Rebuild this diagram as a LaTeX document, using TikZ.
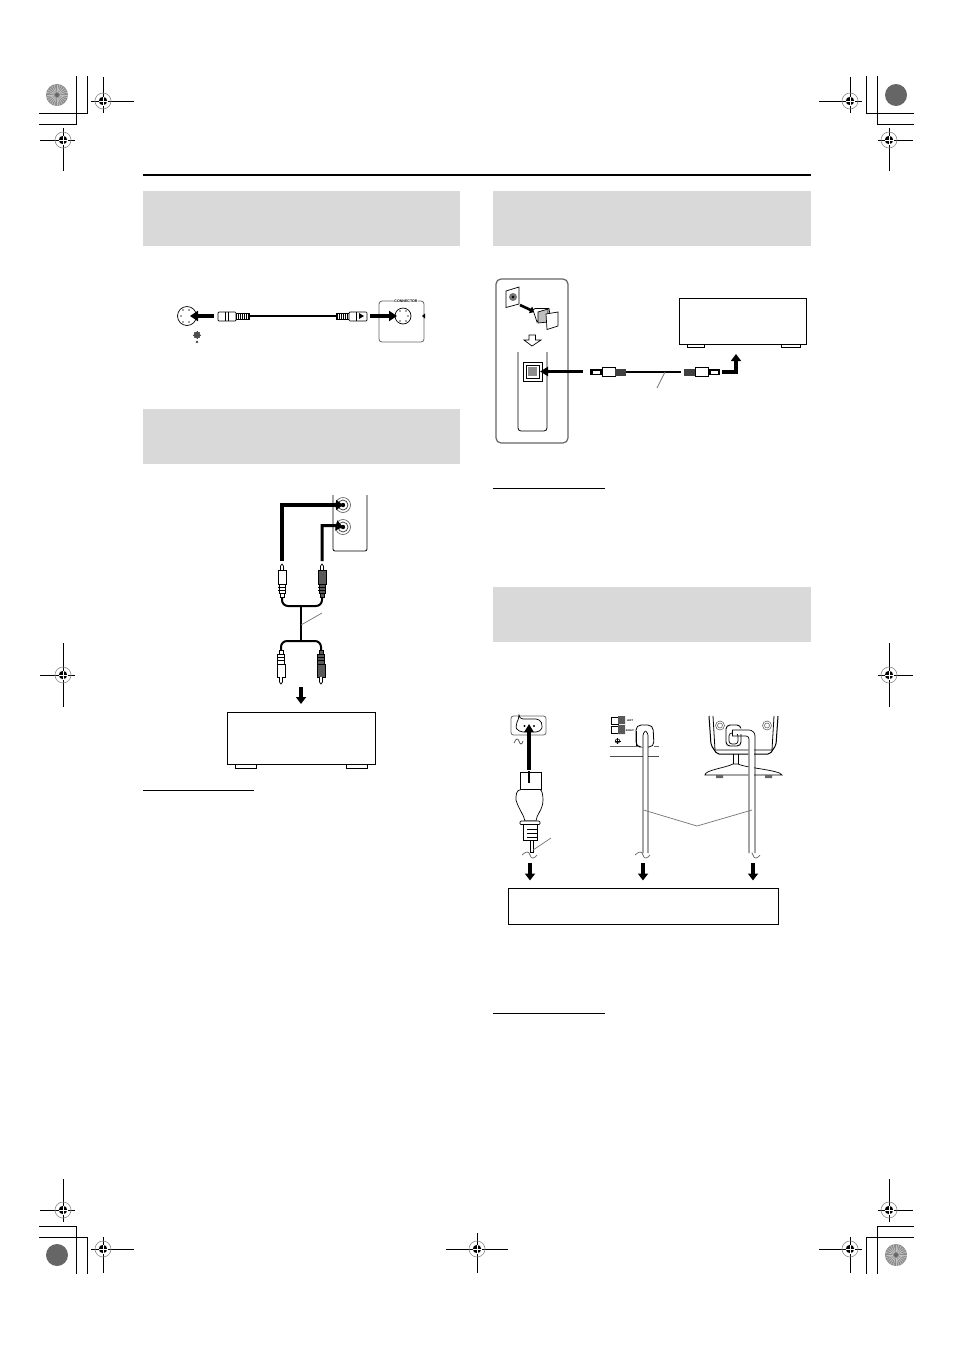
\documentclass[tikz,border=0pt]{standalone}
\usepackage{fontspec}
\setmainfont{Liberation Sans}
\usetikzlibrary{arrows.meta}
\tikzset{
 x=1pt,y=-1pt,
 crop/.style={line width=1pt,black},
 graybar/.style={fill=black!15,draw=none},
 ruleline/.style={line width=0.7pt,black},
 fatarrow/.style={line width=3.5pt,-{Triangle[length=8pt,width=10pt]}},
 cable/.style={line width=3pt,line cap=round,line join=round},
 unitbox/.style={draw=black,line width=0.9pt,fill=white},
 leader/.style={draw=black!55,line width=0.7pt},
 outline/.style={draw=black,line width=0.7pt},
 softline/.style={draw=black!60,line width=1pt},
 smalltext/.style={font=\bfseries\fontsize{3.6}{4}\selectfont,inner sep=0pt,fill=white}
}
\newcommand{\regmark}[6]{% cx cy left right up down
 \draw[crop] (#3,#2) -- (#4,#2) (#1,#5) -- (#1,#6);
 \draw[black!45,line width=0.6pt] (#1,#2) circle[radius=8];
 \fill[black] (#1,#2) circle[radius=4.2];
 \draw[white,line width=0.7pt] (#1-4.5,#2) -- (#1+4.5,#2) (#1,#2-4.5) -- (#1,#2+4.5);
}
\newcommand{\texdisc}[2]{%
 \fill[black!45] (#1,#2) circle[radius=11];
 \foreach \a in {0,15,...,345}{\draw[white!75!black,line width=0.7pt] (#1,#2) ++(\a:3) -- ++(\a:7.5);}
 \fill[black!60] (#1,#2) circle[radius=2];
}
\newcommand{\soliddisc}[2]{\fill[black!60] (#1,#2) circle[radius=11];}
\newcommand{\rcaplug}[5]{% x, ytip, ybody top, ybody bottom, fill
 \draw[outline,fill=white] (#1-1.5,#2+6) -- (#1-1.5,#2+2) -- (#1,#2) -- (#1+1.5,#2+2) -- (#1+1.5,#2+6);
 \draw[outline,fill=#5] (#1-4,#3) rectangle (#1+4,#4);
}
\begin{document}
\begin{tikzpicture}
\useasboundingbox[fill=white] (0,0) rectangle (954,1350);
% crop marks
\draw[crop] (39,124) -- (76,124) -- (76,76) (39,113) -- (87,113) -- (87,76);
\draw[crop] (914,124) -- (877,124) -- (877,76) (914,113) -- (866,113) -- (866,76);
\draw[crop] (39,1226) -- (76,1226) -- (76,1274) (39,1237) -- (87,1237) -- (87,1274);
\draw[crop] (914,1226) -- (877,1226) -- (877,1274) (914,1237) -- (866,1237) -- (866,1274);
\texdisc{57}{95}
\soliddisc{896}{95}
\soliddisc{57}{1255}
\texdisc{896}{1255}
\regmark{103}{101}{91}{134}{77}{113}
\regmark{63}{140}{40}{75}{128}{171}
\regmark{850}{101}{819}{862}{77}{113}
\regmark{889}{140}{878}{913}{128}{171}
\regmark{63}{1210}{40}{75}{1179}{1222}
\regmark{103}{1249}{91}{134}{1237}{1273}
\regmark{889}{1210}{878}{913}{1179}{1222}
\regmark{850}{1249}{819}{862}{1237}{1273}
\regmark{63}{675}{40}{75}{643}{707}
\regmark{889}{675}{878}{913}{643}{707}
\regmark{477}{1249}{446}{508}{1233}{1273}
% header
\draw[black,line width=2pt] (143,175) -- (811,175);
\fill[graybar] (143,191) rectangle (460,246);
\fill[graybar] (143,409) rectangle (460,464);
\fill[graybar] (493,191) rectangle (811,246);
\fill[graybar] (493,587) rectangle (811,642);
\draw[ruleline] (143,790) -- (254,790);
\draw[ruleline] (493,488) -- (605,488);
\draw[ruleline] (493,1013) -- (605,1013);

% ---------- diagram 1
\draw[softline,line width=0.8pt,rounded corners=3pt] (379,301) rectangle (424,342);
\node[smalltext] (conn) at (406,301) {CONNECTOR};
\draw[outline,fill=white] (187,316) circle[radius=9.5];
\foreach \p in {(183,310),(189,310),(181,316),(193,316),(183,322),(189,322)}{\fill[black!70] \p circle[radius=0.9];}
\draw[outline,fill=white] (403,316) circle[radius=8];
\foreach \p in {(400,311),(406,311),(408,316),(400,321),(406,321)}{\fill[black!70] \p circle[radius=0.8];}
\fill[black] (422,316) -- (425,313.5) -- (425,318.5) -- cycle;
\fill[black!70] (197,335) circle[radius=3.4];
\foreach \a in {0,45,...,315}{\draw[black!70,line width=0.4pt] (197,335) ++(\a:3) -- ++(\a:1);}
\fill[black] (197,340.5) -- (195.8,342.5) -- (198.2,342.5) -- cycle;
\draw[fatarrow,line width=4pt] (214,316) -- (190,316);
\draw[fatarrow,line width=4pt] (370,316) -- (397,316);
\coordinate (cL) at (249,316);
\coordinate (cR) at (336,316);
\draw[black,line width=2.6pt] (cL) -- (cR);
\draw[outline,rounded corners=1pt,fill=white] (218,312) rectangle (236,321);
\draw[outline] (225,312) -- (225,321) (228,312)--(228,321);
\draw[outline,fill=white] (236,313) rectangle (249,319.5);
\foreach \x in {238,240,...,248}{\draw[black,line width=0.8pt] (\x,313) -- (\x,319.5);}
\draw[outline,fill=white] (336,313) rectangle (349,319.5);
\foreach \x in {337,339,...,347}{\draw[black,line width=0.8pt] (\x,313) -- (\x,319.5);}
\draw[outline,rounded corners=1pt,fill=white] (349,312) rectangle (367,321);
\fill[black] (359,313) -- (364,316) -- (359,319) -- cycle;
\draw[outline] (356,312) -- (356,321);

% ---------- diagram 2
\draw[black,line width=0.8pt,rounded corners=2pt] (333,495) -- (333,551) -- (367,551) -- (367,495);
\foreach \y in {505,527}{
 \draw[black!60,line width=0.7pt] (343,\y) circle[radius=7.5];
 \draw[black!80,line width=0.7pt] (343,\y) circle[radius=5];
 \fill[black] (343,\y) circle[radius=2.2];
}
\coordinate (j1) at (343,505);
\coordinate (j2) at (343,527);
\draw[line width=4pt,-{Triangle[length=7pt,width=10pt]}] (282,561) -- (282,505) -- (j1);
\draw[line width=3pt,-{Triangle[length=7pt,width=10pt]}] (322,561) -- (322,525.5) -- (336,525.5) -- (j2);
\rcaplug{282}{564}{570}{584}{white}
\rcaplug{322}{564}{570}{584}{black!65}
\foreach \x/\c in {282/white,322/black!65}{
 \draw[outline,fill=\c] (\x-3,584) rectangle (\x+3,593);
 \draw[black,line width=1pt] (\x-4,587) -- (\x+4,587) (\x-4,590) -- (\x+4,590);
 \draw[outline,fill=\c] (\x-2,593) rectangle (\x+2,597);
}
\draw[black,line width=2pt,rounded corners=6pt] (282,597) -- (282,606) -- (322,606) -- (322,597);
\draw[black,line width=2.6pt] (301,606) -- (301,641);
\draw[black,line width=2pt,rounded corners=6pt] (281,652) -- (281,641) -- (321,641) -- (321,652);
\draw[leader] (301,625) -- (322,613);
\foreach \x/\c in {281/white,321/black!65}{
 \draw[outline,fill=\c] (\x-2,650) rectangle (\x+2,654);
 \draw[outline,fill=\c] (\x-3.5,654) rectangle (\x+3.5,664);
 \draw[black,line width=1pt] (\x-4,657) -- (\x+4,657) (\x-4,660) -- (\x+4,660);
 \draw[outline,fill=\c] (\x-4,664) rectangle (\x+4,677);
 \draw[outline,fill=white] (\x-1.5,677) -- (\x-1.5,682) -- (\x,684) -- (\x+1.5,682) -- (\x+1.5,677);
}
\coordinate (a2s) at (301,687);
\node[unitbox,minimum width=0pt,inner sep=0pt,fit/.style={}] (u1) at (301,738) {};
\draw[unitbox] (227,712) rectangle (375.5,764.5);
\draw[unitbox] (235,764.5) rectangle (256,768);
\draw[unitbox] (346,764.5) rectangle (367,768);
\draw[line width=3.5pt,-{Triangle[length=7pt,width=10pt]}] (a2s) -- (301,704);

% ---------- diagram 3
\draw[softline,line width=1.2pt,rounded corners=5pt] (496,279) rectangle (568,443);
\draw[outline,fill=white] (506,291) -- (519,287) -- (519,304) -- (506,307.5) -- cycle;
\fill[black!55] (513,297) circle[radius=4];
\fill[black] (513,297) circle[radius=1.3];
\draw[line width=2.6pt,-{Triangle[length=5pt,width=7pt]}] (520,305) -- (535,312);
\draw[outline,fill=white] (533,310) -- (535,308.5) -- (549,308.5) -- (550,315) -- (540,318) -- (537,322) -- cycle;
\draw[outline,fill=black!25] (538,312) -- (548,309) -- (548,322) -- (538,323) -- cycle;
\draw[outline,fill=white] (546,314) -- (558,312) -- (558,326) -- (547,329.5) -- cycle;
\draw[outline,fill=white] (529,335) -- (535.5,335) -- (535.5,340) -- (541,340) -- (532,346) -- (524,340) -- (529,340) -- cycle;
\draw[black,line width=0.8pt,rounded corners=3pt] (518,352) -- (518,431) -- (547,431) -- (547,352);
\draw[black,line width=1pt,fill=white] (523,362) rectangle (542,381);
\draw[black,line width=0.8pt] (526,365) rectangle (539,378);
\fill[black!45] (528,367) rectangle (537,376);
\draw[line width=3.5pt,-{Triangle[length=8pt,width=9pt]}] (583,371.5) -- (540,371.5);
\draw[black,line width=1.4pt] (626,372) -- (681,372);
\draw[leader] (665,372) -- (657,388);
\foreach \s/\o in {1/0,-1/1310}{
 \begin{scope}[shift={(\o,0)},xscale=\s]
 \fill[black] (590,369) rectangle (602,375);
 \draw[outline,fill=white] (592,370) rectangle (600,374);
 \draw[outline,fill=white] (602,367.5) rectangle (615,376.5);
 \fill[black!75] (615,368.5) rectangle (626,375.5);
 \end{scope}
}
\draw[line width=3.5pt,-{Triangle[length=7pt,width=10pt]}] (722,372) -- (736,372) -- (736,354);
\draw[unitbox] (679.5,298) rectangle (806.5,344);
\draw[unitbox] (687,344) rectangle (704,347);
\draw[unitbox] (781,344) rectangle (800,347);

% ---------- diagram 4
\draw[softline,line width=0.8pt,rounded corners=2.5pt] (511,716) rectangle (546,735);
\draw[outline,rounded corners=4pt] (519,719) -- (540,719) .. controls (542,724) and (542,728) .. (540,732) -- (519,732) .. controls (516,728) and (516,724) .. (519,719) -- cycle;
\fill[black] (524.5,726) circle[radius=1.1] (534,726) circle[radius=1.1];
\draw[black!70,line width=0.7pt] (514,743) .. controls (516,738) and (518,738) .. (519,741) .. controls (520,745) and (522,745) .. (523,741);
\draw[outline,fill=white] (520,772) rectangle (541,789.5);
\draw[line width=3.5pt,-{Triangle[length=8pt,width=9pt]}] (529,770) -- (529,724);
\draw[black,line width=2.6pt,line cap=butt] (529,771) -- (529,783);
\draw[outline,fill=white] (521,789.5) .. controls (516,790) and (516,795) .. (516,800) .. controls (519,810) and (524,815) .. (525,821) -- (536,821) .. controls (536,815) and (543,810) .. (543,800) .. controls (543,795) and (542,790) .. (540,789.5) -- cycle;
\draw[outline,rounded corners=1pt,fill=white] (520,821) rectangle (540,824.5);
\draw[outline,fill=white] (523,824.5) rectangle (537,840);
\foreach \y in {829,833,837}{\draw[black,line width=0.8pt] (527,\y) -- (537,\y);}
\draw[outline,fill=white] (530,840) rectangle (533,852);
\draw[leader] (533,850) -- (551,838);
\coordinate (brkA) at (530,855);
\foreach \x in {522,635,745}{
 \draw[black!60,line width=0.7pt] (\x,855) .. controls (\x+4,851) and (\x+7,851) .. (\x+8,855) .. controls (\x+9,859) and (\x+12,859) .. (\x+15,855);
}
% speaker terminals
\draw[outline,fill=white] (611,717) rectangle (618,724);
\draw[outline,fill=white] (611,726) rectangle (618,733);
\fill[black!65] (618,716) rectangle (625,724) (618,725) rectangle (625,734);
\fill[white] (613,719) rectangle (616,722) (613,728) rectangle (616,731);
\node[smalltext,fill=none,font=\bfseries\fontsize{2.6}{3}\selectfont] (lft) at (630,720.5) {LEFT};
\node[smalltext,fill=none,font=\bfseries\fontsize{2.6}{3}\selectfont] (rgt) at (630,730.5) {RIGHT};
\draw[black,line width=0.6pt] (617.5,741) circle[radius=2.2];
\draw[black,line width=0.6pt] (614.5,741) -- (620.5,741) (617.5,738) -- (617.5,744);
\draw[black!60,line width=0.8pt] (610,746.5) -- (640,746.5) (654,746.5) -- (659,746.5);
\draw[black,line width=1pt,rounded corners=2pt] (636,746) -- (636,731);
\draw[black,line width=0.8pt,rounded corners=5pt] (639,747) -- (636,747) -- (636,725) -- (653,725) -- (654,747) -- (644,747);
\draw[black!70,line width=1.6pt] (610,756.5) -- (659,756.5);
\draw[outline,fill=white,draw=none] (643,735) rectangle (648,853);
\draw[black,line width=0.7pt,rounded corners=2.5pt] (643,853) -- (643,733) -- (645.5,731);
\draw[black,line width=0.7pt,rounded corners=2.5pt] (648,853) -- (648,733) -- (645.5,731);
% speaker rear
\draw[black,line width=1pt,rounded corners=2pt] (709,716) -- (711,745) -- (717,754) -- (770,754) -- (776,745) -- (778,716);
\draw[black,line width=0.8pt] (713,716) -- (715,750) -- (772,750) -- (774,716);
\foreach \x in {720,767}{
 \draw[black!60,line width=0.6pt] (\x,725.5) circle[radius=4.5];
 \draw[black!60,line width=0.6pt] (\x,725.5) circle[radius=2.5];
}
\draw[black,line width=0.9pt,rounded corners=4pt] (726,725) rectangle (741,746);
\draw[black,line width=0.7pt,rounded corners=3pt] (729,733) rectangle (738,744);
\draw[outline] (733,754) -- (733,766) (738,754) -- (738,766);
\draw[outline,fill=white] (705,775) .. controls (705,770) and (725,768) .. (733,764) -- (738,764) .. controls (746,768) and (780,770) .. (782,775) -- cycle;
\fill[black!60] (716,775) rectangle (723,778) (765,775) rectangle (772,778);
\draw[white,line width=5.5pt,rounded corners=6pt] (745.5,853) -- (751,853) -- (751,731) -- (733,731);
\draw[black,line width=0.7pt,rounded corners=6pt] (755,853) -- (755,730) -- (732,730);
\draw[black,line width=0.7pt,rounded corners=3pt] (749,853) -- (749,736) -- (732,736);
\draw[outline] (732,730) -- (732,736);
% leader fork
\coordinate (f1) at (643.5,810);
\coordinate (f2) at (697,826);
\coordinate (f3) at (752,810);
\draw[leader] (f1) -- (f2) -- (f3);
% down arrows
\foreach \x in {530,643,753}{
 \draw[line width=3.5pt,-{Triangle[length=7pt,width=10pt]}] (\x,863) -- (\x,880.5);
}
\draw[unitbox] (508.5,888) rectangle (778.5,924.5);
\end{tikzpicture}
\end{document}
